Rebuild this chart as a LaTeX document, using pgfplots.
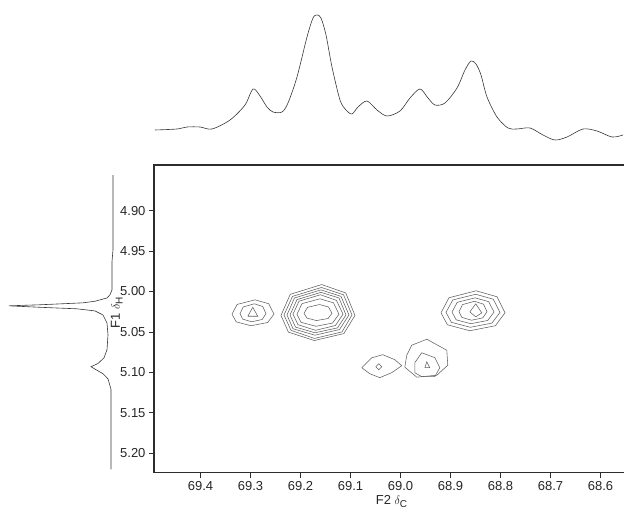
\documentclass[border=0pt]{standalone}
\usepackage{fontspec}
\setmainfont{Liberation Sans}
\usepackage{pgfplots}
\pgfplotsset{compat=1.18}
\definecolor{cont}{RGB}{95,95,95}
\definecolor{spec}{RGB}{55,55,55}
\definecolor{frame}{RGB}{45,45,45}
\pgfplotsset{
  cnt/.style={cont, line width=0.55pt, mark=none},
  proj/.style={spec, line width=0.6pt, mark=none},
}
\begin{document}
\begin{tikzpicture}
\useasboundingbox (0pt,0pt) rectangle (624pt,514pt);

% F2 projection (top)
\begin{axis}[at={(154pt,369pt)}, anchor=south west, scale only axis,
  width=470pt, height=135pt,
  xmin=68.553, xmax=69.493, x dir=reverse,
  ymin=-5, ymax=130, hide axis]
\addplot[proj, smooth] coordinates {
 (69.491,10) (69.447,11) (69.427,13) (69.401,13) (69.377,11) (69.341,20)
 (69.311,35) (69.295,51) (69.281,44) (69.267,33) (69.255,28) (69.237,28)
 (69.225,37) (69.207,63) (69.187,103) (69.175,122) (69.167,125) (69.159,122)
 (69.149,105) (69.137,73) (69.121,40) (69.109,30) (69.097,26) (69.085,33)
 (69.067,39) (69.047,30) (69.027,24) (69.001,29) (68.981,42) (68.961,51)
 (68.945,42) (68.931,35) (68.911,37) (68.887,52) (68.871,70) (68.859,79)
 (68.849,76) (68.839,65) (68.827,43) (68.807,23) (68.785,12) (68.767,11)
 (68.741,12) (68.715,5) (68.691,0) (68.667,3) (68.635,11) (68.607,9)
 (68.577,3) (68.555,5)};
\end{axis}

% F1 projection (left)
\begin{axis}[at={(0pt,41.3pt)}, anchor=south west, scale only axis,
  width=118pt, height=307.7pt,
  xmin=-5, xmax=113, x dir=reverse,
  ymin=4.8436, ymax=5.224, y dir=reverse, hide axis]
\addplot[proj] coordinates {
 (0,4.856) (0,4.9485) (1,4.963) (1,4.998) (3,5.004) (6,5.008) (18,5.012)
 (30,5.014) (73,5.0164) (104,5.0177) (73,5.0195) (36,5.0214) (18,5.024)
 (10,5.029) (6,5.039) (5,5.0535) (6,5.072) (9,5.082) (15,5.089) (22,5.093)
 (17,5.0967) (10,5.1016) (5,5.108) (2,5.121) (2,5.220)};
\end{axis}

% 2D contour map
\begin{axis}[at={(154pt,41.3pt)}, anchor=south west, scale only axis,
  width=470pt, height=307.7pt, clip=false,
  xmin=68.553, xmax=69.493, x dir=reverse,
  ymin=4.8436, ymax=5.224, y dir=reverse,
  xtick={68.6,68.7,68.8,68.9,69.0,69.1,69.2,69.3,69.4},
  ytick={4.90,4.95,5.00,5.05,5.10,5.15,5.20},
  xtick pos=bottom, ytick pos=left, tick align=outside,
  major tick length=5pt, minor tick num=0,
  every tick/.style={frame, line width=0.8pt},
  axis line style={draw=none},
  /pgf/number format/assume math mode=true,
  tick label style={font=\fontsize{13}{15}\selectfont, text=black!85},
  xticklabel style={/pgf/number format/.cd, fixed, fixed zerofill, precision=1},
  yticklabel style={/pgf/number format/.cd, fixed, fixed zerofill, precision=2},
  xlabel={F2 $\delta_{\mbox{\fontsize{10}{12}\selectfont C}}$},
  ylabel={F1 $\delta_{\mbox{\fontsize{10}{12}\selectfont H}}$},
  every axis x label/.style={at={(axis description cs:0.506,-0.071)}, anchor=north,
    font=\fontsize{13}{15}\selectfont, text=black!85, inner sep=1pt},
  every axis y label/.style={at={(axis description cs:-0.079,0.52)}, anchor=center,
    rotate=90, font=\fontsize{13}{15}\selectfont, text=black!85},
]
\draw[frame, line width=1.2pt] (rel axis cs:1,1) -- (rel axis cs:0,1)
  -- (rel axis cs:0,0) -- (rel axis cs:1,0);

% peak 69.30 / 5.03
\addplot[cnt] coordinates {(69.337,5.0279) (69.3265,5.0159) (69.2908,5.0103) (69.2635,5.0151) (69.253,5.0279) (69.2656,5.0383) (69.2992,5.0423) (69.3286,5.0375) (69.337,5.0279)};
\addplot[cnt] coordinates {(69.321,5.0274) (69.3145,5.0191) (69.2924,5.0152) (69.2755,5.0185) (69.269,5.0274) (69.2768,5.0346) (69.2976,5.0374) (69.3158,5.0341) (69.321,5.0274)};
\addplot[cnt] coordinates {(69.3054,5.0306) (69.2954,5.0195) (69.2854,5.0306) (69.3054,5.0306)};

% peak 69.165 / 5.026
\addplot[cnt] coordinates {(69.239,5.0295) (69.2205,5.0035) (69.1576,4.9914) (69.1095,5.0018) (69.091,5.0295) (69.1132,5.052) (69.1724,5.0606) (69.2242,5.0502) (69.239,5.0295)};
\addplot[cnt] coordinates {(69.233,5.029) (69.216,5.006) (69.158,4.995) (69.114,5.004) (69.097,5.029) (69.117,5.050) (69.172,5.058) (69.219,5.048) (69.233,5.029)};
\addplot[cnt] coordinates {(69.227,5.029) (69.212,5.008) (69.159,4.998) (69.119,5.006) (69.103,5.029) (69.122,5.047) (69.171,5.054) (69.215,5.046) (69.227,5.029)};
\addplot[cnt] coordinates {(69.221,5.029) (69.207,5.010) (69.159,5.001) (69.123,5.008) (69.109,5.029) (69.126,5.045) (69.171,5.051) (69.210,5.044) (69.221,5.029)};
\addplot[cnt] coordinates {(69.215,5.028) (69.203,5.012) (69.160,5.004) (69.128,5.011) (69.115,5.028) (69.130,5.042) (69.170,5.048) (69.205,5.041) (69.215,5.028)};
\addplot[cnt] coordinates {(69.207,5.028) (69.197,5.015) (69.161,5.009) (69.134,5.014) (69.123,5.028) (69.136,5.039) (69.169,5.043) (69.199,5.038) (69.207,5.028)};
\addplot[cnt] coordinates {(69.193,5.027) (69.186,5.0196) (69.162,5.0161) (69.144,5.0191) (69.137,5.027) (69.145,5.0334) (69.168,5.0359) (69.187,5.0329) (69.193,5.027)};

% peak 68.855 / 5.024
\addplot[cnt] coordinates {(68.919,5.0263) (68.903,5.0077) (68.8486,4.9991) (68.807,5.0065) (68.791,5.0263) (68.8102,5.0423) (68.8614,5.0485) (68.9062,5.0411) (68.919,5.0263)};
\addplot[cnt] coordinates {(68.909,5.0258) (68.8955,5.0105) (68.8496,5.0034) (68.8145,5.0095) (68.801,5.0258) (68.8172,5.0391) (68.8604,5.0442) (68.8982,5.0381) (68.909,5.0258)};
\addplot[cnt] coordinates {(68.897,5.0254) (68.8865,5.0134) (68.8508,5.0078) (68.8235,5.0126) (68.813,5.0254) (68.8256,5.0358) (68.8592,5.0398) (68.8886,5.035) (68.897,5.0254)};
\addplot[cnt] coordinates {(68.883,5.025) (68.876,5.0162) (68.8522,5.0121) (68.834,5.0156) (68.827,5.025) (68.8354,5.0326) (68.8578,5.0355) (68.8774,5.032) (68.883,5.025)};
\addplot[cnt] coordinates {(68.8614,5.0252) (68.8494,5.0153) (68.8374,5.0264) (68.8494,5.0313) (68.8614,5.0252)};

% peak 69.04 / 5.093
\addplot[cnt] coordinates {(69.0774,5.0942) (69.0574,5.0819) (69.0354,5.0781) (69.0114,5.0843) (68.9974,5.0917) (69.0174,5.1003) (69.0414,5.1065) (69.0614,5.1016) (69.0774,5.0942)};
\addplot[cnt] coordinates {(69.0494,5.093) (69.0434,5.0893) (69.0374,5.093) (69.0434,5.0967) (69.0494,5.093)};

% peak 68.95 / 5.089
\addplot[cnt] coordinates {(68.9914,5.0936) (68.9874,5.0788) (68.9774,5.0664) (68.9474,5.059) (68.9074,5.0726) (68.9054,5.0911) (68.9274,5.1035) (68.9674,5.1059) (68.9914,5.0936)};
\addplot[cnt] coordinates {(68.9714,5.088) (68.9574,5.0757) (68.9314,5.0818) (68.9214,5.0942) (68.9314,5.1053) (68.9574,5.1053) (68.9714,5.1004) (68.9714,5.088)};
\addplot[cnt] coordinates {(68.9514,5.0942) (68.9474,5.087) (68.9414,5.0942) (68.9514,5.0942)};
\end{axis}
\end{tikzpicture}
\end{document}
